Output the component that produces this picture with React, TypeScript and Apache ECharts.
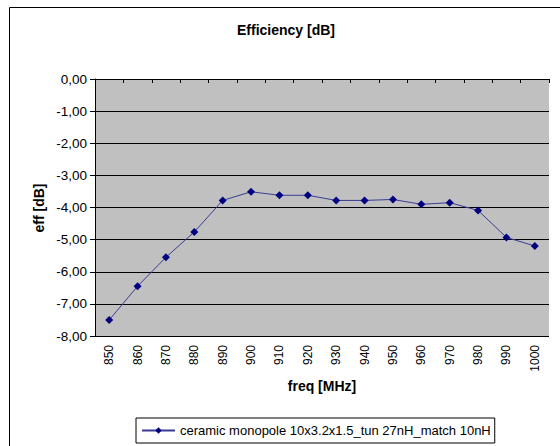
import React, { useEffect, useRef } from "react";
import * as echarts from "echarts";

const categories = ["850","860","870","880","890","900","910","920","930","940","950","960","970","980","990","1000"];
const efficiency = [-7.5, -6.45, -5.55, -4.76, -3.78, -3.51, -3.62, -3.62, -3.78, -3.78, -3.75, -3.9, -3.85, -4.09, -4.93, -5.2];
const seriesName = "ceramic monopole 10x3.2x1.5_tun 27nH_match 10nH";
const titleText = "Efficiency [dB]";
const yName = "eff [dB]";
const xName = "freq [MHz]";

const FONT = "'Liberation Sans', Arial, sans-serif";

export default function App() {
  const ref = useRef<HTMLDivElement>(null);
  useEffect(() => {
    const chart = echarts.init(ref.current!, null, { renderer: "svg" });
    chart.setOption({
      animation: false,
      backgroundColor: "#ffffff",
      textStyle: { fontFamily: FONT },
      graphic: [
        {
          type: "rect",
          shape: { x: 9.5, y: 7.5, width: 600, height: 500 },
          style: { fill: "none", stroke: "#000", lineWidth: 1 },
          silent: true,
          z: -1,
        },
        {
          type: "text",
          x: 286,
          y: 30,
          style: {
            text: titleText,
            fontSize: 14,
            fontWeight: "bold",
            fontFamily: FONT,
            fill: "#000",
            align: "center",
            verticalAlign: "middle",
          },
        },
        {
          type: "text",
          x: 39,
          y: 208,
          rotation: Math.PI / 2,
          style: {
            text: yName,
            fontSize: 14,
            fontWeight: "bold",
            fontFamily: FONT,
            fill: "#000",
            align: "center",
            verticalAlign: "middle",
          },
        },
        {
          type: "text",
          x: 322,
          y: 386,
          style: {
            text: xName,
            fontSize: 14,
            fontWeight: "bold",
            fontFamily: FONT,
            fill: "#000",
            align: "center",
            verticalAlign: "middle",
          },
        },
      ],
      legend: {
        left: 136,
        top: 418,
        data: [{ name: seriesName }],
        borderColor: "#000",
        borderWidth: 1,
        padding: [6, 4, 6, 5],
        itemWidth: 33,
        itemHeight: 8,
        itemGap: 4,
        textStyle: { fontSize: 13, color: "#000", fontFamily: FONT },
      },
      grid: {
        left: 95,
        top: 79,
        width: 454,
        height: 257,
        show: true,
        backgroundColor: "#c0c0c0",
        borderWidth: 0,
      },
      xAxis: {
        type: "category",
        data: categories,
        boundaryGap: true,
        axisLine: { show: true, lineStyle: { color: "#000", width: 1 } },
        axisTick: { show: true, length: 4, alignWithLabel: false, lineStyle: { color: "#000" } },
        axisLabel: { rotate: 90, margin: 9, fontSize: 12, color: "#000", fontFamily: FONT, interval: 0 },
        splitLine: { show: false },
      },
      yAxis: {
        type: "value",
        min: -8,
        max: 0,
        interval: 1,
        axisLine: { show: true, lineStyle: { color: "#000", width: 1 } },
        axisTick: { show: true, length: 5, lineStyle: { color: "#000" } },
        axisLabel: {
          fontSize: 13.5,
          color: "#000",
          fontFamily: FONT,
          margin: 8,
          formatter: (v: number) => (v === 0 ? "0,00" : v.toFixed(2).replace(".", ",")),
        },
        splitLine: { show: true, lineStyle: { color: "#000", width: 1 } },
      },
      series: [
        {
          name: seriesName,
          type: "line",
          data: efficiency,
          symbol: "diamond",
          symbolSize: 8,
          itemStyle: { color: "#000080" },
          lineStyle: { color: "#3b3b93", width: 1 },
        },
      ],
    });
    return () => chart.dispose();
  }, []);
  return (
    <div
      ref={ref}
      style={{ position: "fixed", left: 0, top: 0, width: 560, height: 446 }}
    />
  );
}
